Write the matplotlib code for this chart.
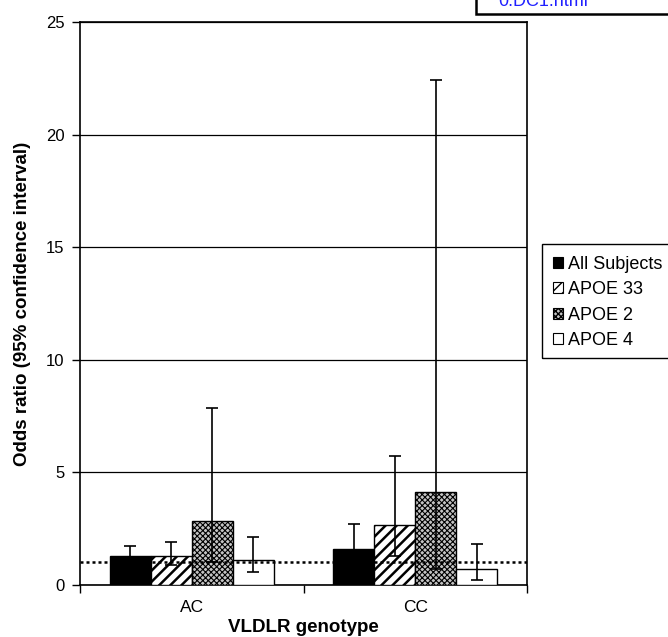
import matplotlib
matplotlib.use("Agg")
import matplotlib.pyplot as plt
from matplotlib.patches import Patch, Rectangle
import numpy as np

plt.rcParams['font.family'] = ['Liberation Sans', 'DejaVu Sans']

categories = ["AC", "CC"]
series = ["All Subjects", "APOE 33", "APOE 2", "APOE 4"]
odds = {
    "All Subjects": [1.29, 1.60],
    "APOE 33": [1.29, 2.68],
    "APOE 2": [2.85, 4.13],
    "APOE 4": [1.13, 0.69],
}
ci_low = {
    "All Subjects": [0.97, 0.93],
    "APOE 33": [0.88, 1.29],
    "APOE 2": [1.01, 0.69],
    "APOE 4": [0.57, 0.22],
}
ci_high = {
    "All Subjects": [1.72, 2.72],
    "APOE 33": [1.93, 5.72],
    "APOE 2": [7.87, 22.42],
    "APOE 4": [2.13, 1.81],
}
yticks = [0, 5, 10, 15, 20, 25]
reference_line = 1.0

styles = {
    "All Subjects": dict(facecolor="black", hatch=None, hlw=1.6),
    "APOE 33": dict(facecolor="white", hatch="///", hlw=1.8),
    "APOE 2": dict(facecolor="#c4c4c4", hatch="xxxxxx", hlw=0.8),
    "APOE 4": dict(facecolor="white", hatch=None, hlw=1.6),
}

W, H = 668, 637
fig = plt.figure(figsize=(W / 100, H / 100), dpi=100)
ax = fig.add_axes([80 / W, 1 - 585 / H, (527 - 80) / W, (585 - 22) / H])


def set_hlw(patch, lw):
    try:
        patch.set_hatch_linewidth(lw)
    except Exception:
        pass


x = np.arange(len(categories))
bw = 0.183
offsets = (np.arange(len(series)) - 1.5) * bw
for i, s in enumerate(series):
    st = styles[s]
    with plt.rc_context({'hatch.linewidth': st["hlw"]}):
        bars = ax.bar(x + offsets[i], odds[s], width=bw, facecolor=st["facecolor"],
                      edgecolor="black", linewidth=1.0, hatch=st["hatch"], zorder=3)
    for b in bars:
        set_hlw(b, st["hlw"])
for i, s in enumerate(series):
    v = np.array(odds[s])
    lo = v - np.array(ci_low[s])
    hi = np.array(ci_high[s]) - v
    ax.errorbar(x + offsets[i], v, yerr=[lo, hi], fmt="none", ecolor="black",
                elinewidth=1.2, capsize=4, capthick=1.2, zorder=4)

ax.axhline(reference_line, color="black", linestyle=(0, (1.2, 1.2)), linewidth=1.8, zorder=5)

ax.set_xlim(-0.5, 1.5)
ax.set_ylim(0, 25)
ax.set_yticks(yticks)
ax.set_yticklabels([str(t) for t in yticks], fontsize=12)
ax.yaxis.grid(True, color="black", linewidth=0.9, zorder=0)
ax.set_axisbelow(True)
ax.set_xticks([-0.5, 0.5, 1.5])
ax.set_xticklabels([])
ax.set_xticks(x, minor=True)
ax.set_xticklabels(categories, minor=True, fontsize=12.5)
ax.tick_params(axis="x", which="minor", length=0, pad=11)
ax.tick_params(axis="x", which="major", length=6, direction="out", width=1)
ax.tick_params(axis="y", length=6, direction="out", width=1, pad=5)
for sp in ax.spines.values():
    sp.set_linewidth(1.2)
ax.set_xlabel("VLDLR genotype", fontsize=13.5, fontweight="bold", labelpad=3)
ax.set_ylabel("Odds ratio (95% confidence interval)", fontsize=13.5, fontweight="bold", labelpad=11)

# legend
handles = []
for s in series:
    st = styles[s]
    with plt.rc_context({'hatch.linewidth': min(st["hlw"], 1.0)}):
        p = Patch(facecolor=st["facecolor"], edgecolor="black",
                  hatch=st["hatch"], linewidth=0.8)
    set_hlw(p, min(st["hlw"], 1.0))
    handles.append(p)
leg = fig.legend(handles, series, loc="upper left",
                 bbox_to_anchor=(540 / W, 1 - 243 / H), frameon=False,
                 fontsize=13, handlelength=0.6, handleheight=0.6,
                 handletextpad=0.25, labelspacing=0.47, borderpad=0.2)
fig.add_artist(Rectangle((542 / W, 1 - 358 / H), 200 / W, (358 - 244) / H,
                         transform=fig.transFigure, facecolor="none",
                         edgecolor="black", linewidth=1.0))

# top-right clipped box
fig.add_artist(Rectangle((476 / W, 1 - 13.5 / H), 250 / W, 30 / H,
                         transform=fig.transFigure, facecolor="white",
                         edgecolor="black", linewidth=1.8))
fig.text(498 / W, 1 - 6 / H, "0.DC1.html", color="#2020ff", fontsize=13,
         va="baseline", ha="left")

fig.savefig("out.png", dpi=100)
